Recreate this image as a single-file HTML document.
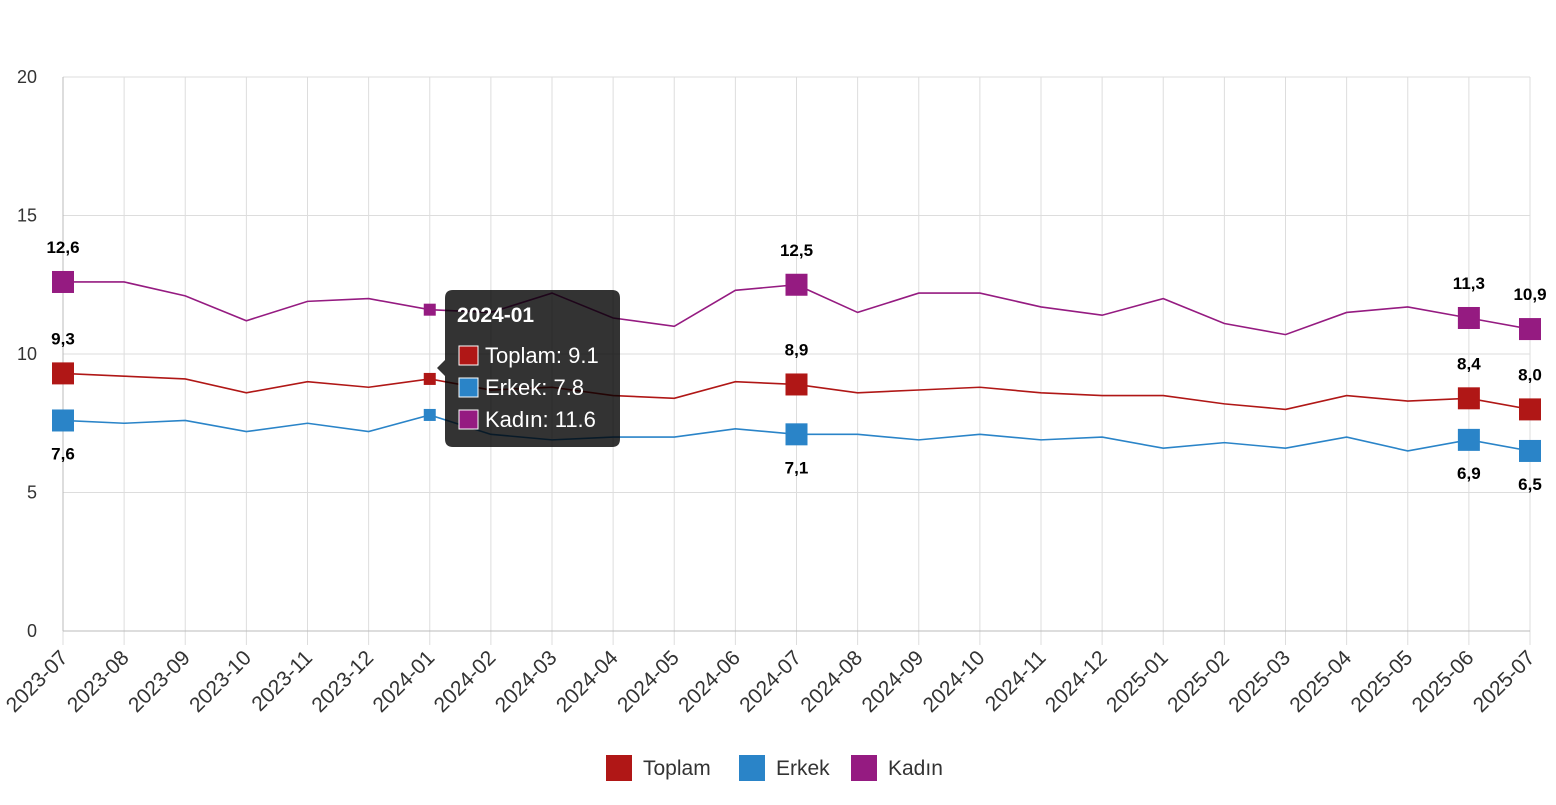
<!DOCTYPE html>
<html><head><meta charset="utf-8"><style>
body{margin:0;background:#fff;font-family:"Liberation Sans",sans-serif;}
</style></head><body>
<svg id="c" width="1556" height="800" xmlns="http://www.w3.org/2000/svg" font-family="Liberation Sans, sans-serif"></svg>
<script>
const svg=document.getElementById('c');
const X0=63,DX=61.125,Y0=631,DY=27.7;
const xs=i=>X0+i*DX, ys=v=>Y0-v*DY;
const months=[];for(let i=0;i<25;i++){let m=7+i,y=2023+Math.floor((m-1)/12);m=(m-1)%12+1;months.push(y+'-'+String(m).padStart(2,'0'));}
const T=[9.3,9.2,9.1,8.6,9.0,8.8,9.1,8.7,8.8,8.5,8.4,9.0,8.9,8.6,8.7,8.8,8.6,8.5,8.5,8.2,8.0,8.5,8.3,8.4,8.0];
const E=[7.6,7.5,7.6,7.2,7.5,7.2,7.8,7.1,6.9,7.0,7.0,7.3,7.1,7.1,6.9,7.1,6.9,7.0,6.6,6.8,6.6,7.0,6.5,6.9,6.5];
const K=[12.6,12.6,12.1,11.2,11.9,12.0,11.6,11.5,12.2,11.3,11.0,12.3,12.5,11.5,12.2,12.2,11.7,11.4,12.0,11.1,10.7,11.5,11.7,11.3,10.9];
let h='';
for(let v=0;v<=20;v+=5){h+=`<line x1="${X0}" x2="1530" y1="${ys(v)}" y2="${ys(v)}" stroke="#ddd"/>`;h+=`<text x="37" y="${ys(v)+6}" text-anchor="end" font-size="18" fill="#333">${v}</text>`;}
for(let i=0;i<25;i++){h+=`<line x1="${xs(i)}" x2="${xs(i)}" y1="77" y2="645" stroke="#ddd"/>`;
h+=`<text transform="translate(${xs(i)+6},659) rotate(-45)" text-anchor="end" font-size="21" fill="#333">${months[i]}</text>`;}
h+=`<line x1="${X0}" x2="${X0}" y1="77" y2="631" stroke="#bbb"/><line x1="${X0}" x2="1530" y1="631" y2="631" stroke="#bbb"/>`;
const big=[0,12,23,24];
function ser(d,c,lab){let p=d.map((v,i)=>`${xs(i)},${ys(v)}`).join(' ');h+=`<polyline points="${p}" fill="none" stroke="${c}" stroke-width="1.6"/>`;
big.forEach(i=>{h+=`<rect x="${xs(i)-11}" y="${ys(d[i])-11}" width="22" height="22" fill="${c}"/>`;
let ly=lab=='b'?ys(d[i])+39:ys(d[i])-29;h+=`<text x="${xs(i)}" y="${ly}" text-anchor="middle" font-size="17" font-weight="bold">${d[i].toFixed(1).replace('.',',')}</text>`;});
h+=`<rect x="${xs(6)-6}" y="${ys(d[6])-6}" width="12" height="12" fill="${c}"/>`;}
ser(T,'#b01716','a');ser(E,'#2a84c8','b');ser(K,'#951b81','a');
h+=`<path d="M452,290 H612 Q620,290 620,298 V439 Q620,447 612,447 H453 Q445,447 445,439 V376 L437,368 L445,360 V298 Q445,290 453,290Z" fill="rgba(0,0,0,0.8)"/>
<text x="457" y="322" fill="#fff" font-size="21" font-weight="bold">2024-01</text>`;
[['Toplam: 9.1','#b01716',355],['Erkek: 7.8','#2a84c8',387],['Kadın: 11.6','#951b81',419]].forEach(([t,c,y])=>{
h+=`<rect x="459" y="${y-9}" width="19" height="19" fill="${c}" stroke="#fff" stroke-width="1"/><text x="485" y="${y+8}" fill="#fff" font-size="22">${t}</text>`;});
[['Toplam','#b01716',606],['Erkek','#2a84c8',739],['Kadın','#951b81',851]].forEach(([t,c,x])=>{
h+=`<rect x="${x}" y="755" width="26" height="26" fill="${c}"/><text x="${x+37}" y="775" font-size="21" fill="#333">${t}</text>`;});
svg.innerHTML=h;
</script>
</body></html>
